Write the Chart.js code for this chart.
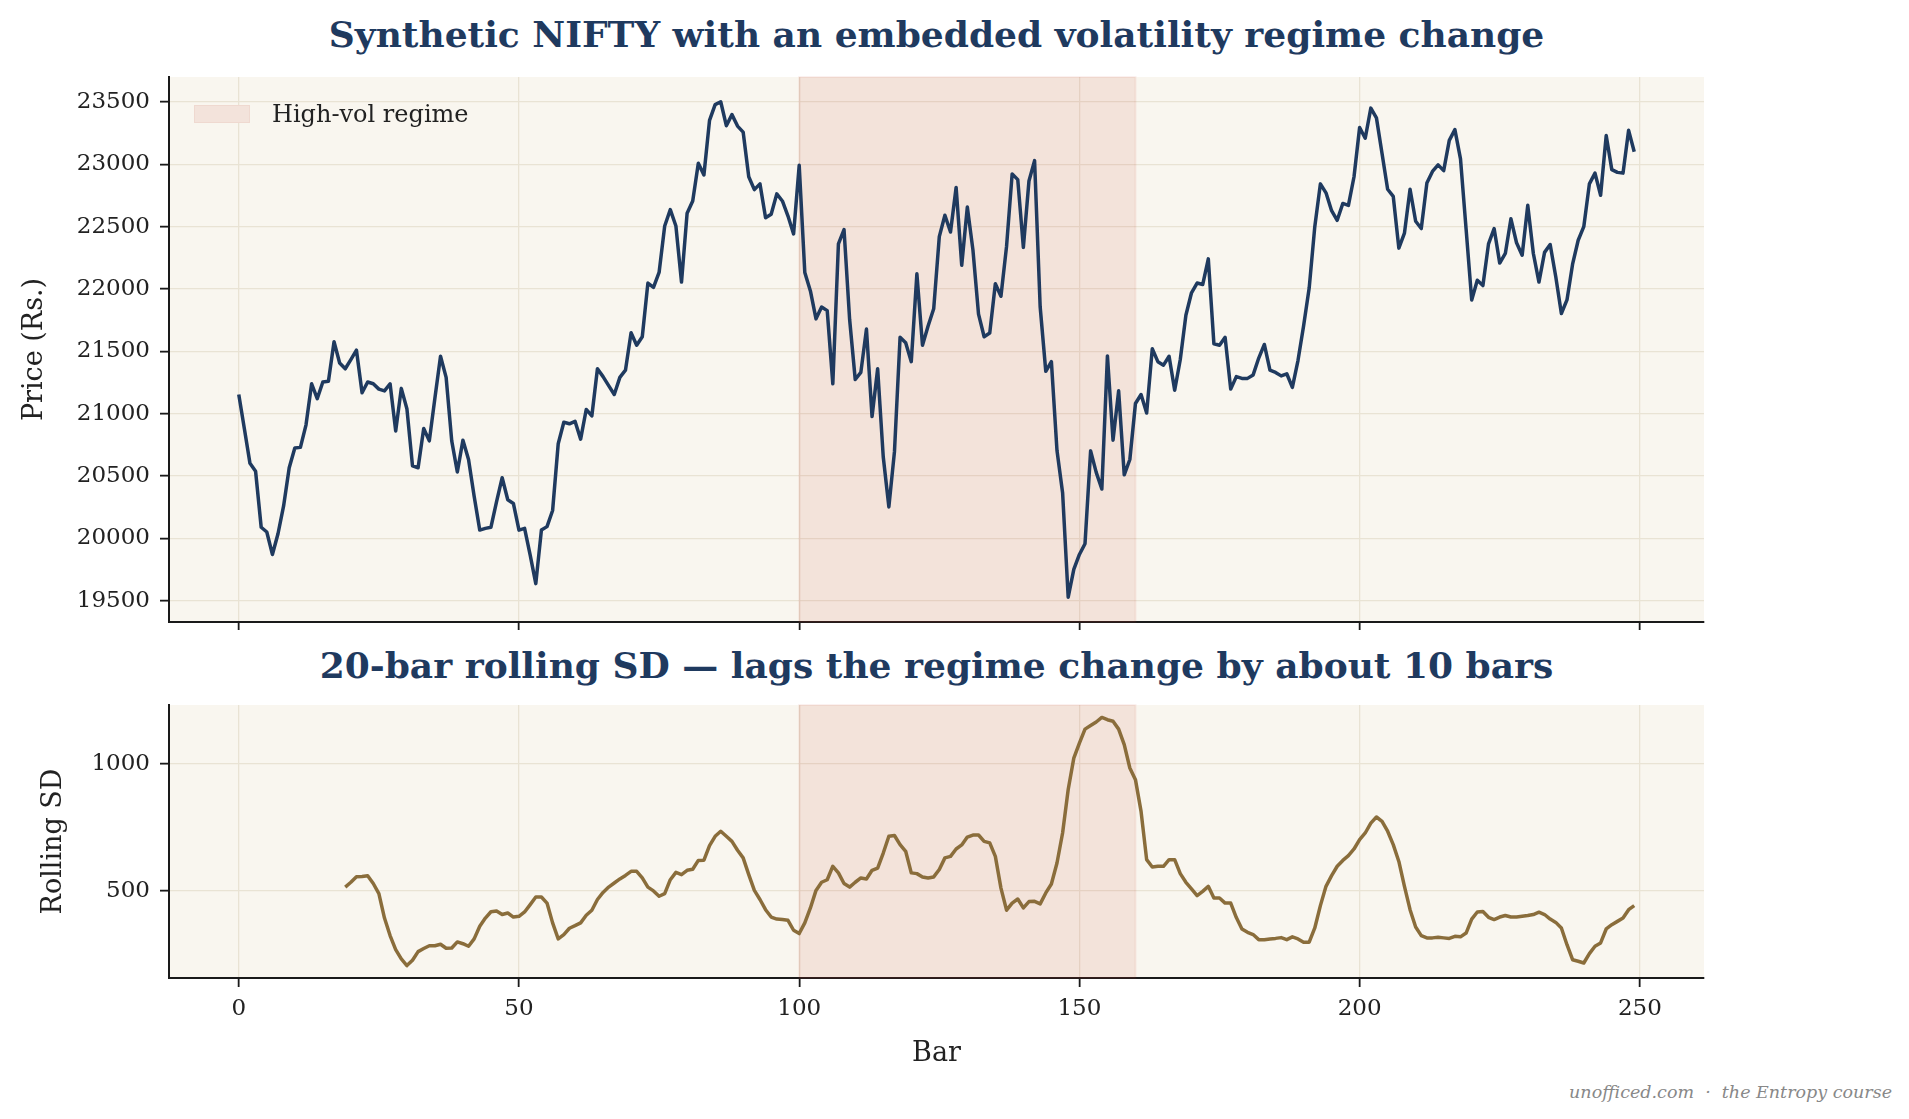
<!DOCTYPE html>
<html>
<head>
<meta charset="utf-8">
<script src="https://cdn.jsdelivr.net/npm/chart.js@4.4.0/dist/chart.umd.min.js"></script>
<style>
  body { margin:0; width:1909px; height:1119px; background:#fff; position:relative; overflow:hidden; font-family:"DejaVu Serif", serif; }
  canvas { position:absolute; left:0; }
  #priceChart { top:70px; }
  #sdChart { top:698px; }
  .title { position:absolute; left:169px; width:1535px; text-align:center; color:#1f3a5f; font-weight:bold; font-size:36px; line-height:44px; white-space:nowrap; }
  #title1 { top:12px; }
  #title2 { top:643px; }
  #legendBox { position:absolute; left:194px; top:105px; width:56px; height:18px; background:#f3e3db; border:1px solid #efd9d0; box-sizing:border-box; }
  #legendText { position:absolute; left:272px; top:100px; font-size:24px; line-height:28px; color:#222; }
  #footer { position:absolute; right:17px; top:1082px; font-size:17.5px; line-height:20px; font-style:italic; color:#888; }
</style>
</head>
<body>
<div class="title" id="title1">Synthetic NIFTY with an embedded volatility regime change</div>
<div class="title" id="title2">20-bar rolling SD — lags the regime change by about 10 bars</div>
<canvas id="priceChart" width="1720" height="560"></canvas>
<canvas id="sdChart" width="1720" height="380"></canvas>
<div id="legendBox"></div>
<div id="legendText">High-vol regime</div>
<div id="footer">unofficed.com &nbsp;·&nbsp; the Entropy course</div>
<script>
// closing price per bar, bars 0..249
const price = [
  21154, 20880, 20602, 20539, 20090, 20052, 19872, 20038, 20261, 20567,
  20725, 20730, 20911, 21240, 21120, 21254, 21260, 21577, 21406, 21360,
  21434, 21509, 21168, 21254, 21240, 21197, 21183, 21240, 20862, 21203,
  21040, 20582, 20567, 20882, 20782, 21125, 21460, 21291, 20782, 20533,
  20788, 20633, 20339, 20067, 20081, 20090, 20295, 20487, 20310, 20281,
  20067, 20081, 19867, 19638, 20067, 20095, 20224, 20759, 20931, 20919,
  20939, 20796, 21034, 20982, 21360, 21297, 21225, 21154, 21291, 21349,
  21649, 21549, 21617, 22047, 22012, 22132, 22504, 22636, 22504, 22055,
  22607, 22705, 23008, 22913, 23351, 23477, 23500, 23308, 23397, 23305,
  23257, 22899, 22796, 22842, 22570, 22599, 22762, 22705, 22584, 22441,
  22991, 22132, 21984, 21760, 21855, 21826, 21240, 22361, 22476, 21755,
  21274, 21331, 21678, 20977, 21360, 20653, 20253, 20696, 21612, 21569,
  21417, 22121, 21549, 21703, 21841, 22419, 22590, 22456, 22813, 22190,
  22656, 22313, 21798, 21617, 21646, 22041, 21941, 22341, 22922, 22876,
  22333, 22865, 23028, 21855, 21340, 21417, 20705, 20367, 19529, 19752,
  19872, 19958, 20702, 20530, 20396, 21463, 20788, 21183, 20510, 20633,
  21082, 21154, 21005, 21520, 21417, 21389, 21460, 21188, 21434, 21789,
  21969, 22047, 22035, 22241, 21560, 21549, 21612, 21197, 21297, 21283,
  21283, 21311, 21446, 21555, 21349, 21331, 21303, 21320, 21211, 21426,
  21703, 22007, 22499, 22842, 22770, 22627, 22550, 22685, 22670, 22899,
  23294, 23208, 23449, 23371, 23085, 22799, 22742, 22327, 22447, 22799,
  22542, 22484, 22848, 22942, 22994, 22948, 23191, 23277, 23042, 22479,
  21912, 22070, 22027, 22361, 22484, 22207, 22284, 22562, 22370, 22270,
  22670, 22284, 22055, 22293, 22356, 22098, 21803, 21912, 22198, 22390,
  22499, 22842, 22928, 22751, 23229, 22956, 22934, 22928, 23271, 23099
];

// 20-bar rolling SD, first value sits at bar 19
const sdStart = 19;
const rollingSd = [
                                                            514,
  533, 555, 556, 559, 528, 488, 392, 323, 268, 231,
  205, 226, 260, 272, 283, 283, 289, 273, 274, 298,
  291, 281, 310, 360, 392, 417, 420, 406, 412, 396,
  399, 416, 445, 475, 475, 451, 373, 310, 327, 352,
  362, 373, 403, 423, 465, 493, 514, 530, 546, 560,
  576, 576, 550, 514, 499, 478, 488, 543, 572, 563,
  580, 584, 619, 620, 677, 714, 734, 714, 694, 659,
  629, 563, 501, 465, 425, 396, 388, 386, 383, 344,
  331, 373, 432, 501, 533, 543, 596, 570, 528, 514,
  533, 550, 546, 580, 589, 648, 714, 717, 681, 655,
  570, 567, 554, 550, 554, 583, 629, 635, 664, 680,
  711, 719, 719, 694, 688, 635, 510, 423, 451, 467,
  432, 457, 458, 448, 491, 526, 609, 727, 898, 1022,
  1081, 1136, 1150, 1164, 1182, 1173, 1167, 1136, 1075, 983,
  937, 812, 622, 593, 596, 596, 622, 622, 567, 533,
  507, 480, 497, 517, 471, 471, 451, 451, 394, 349,
  336, 327, 307, 307, 310, 312, 315, 307, 318, 310,
  297, 297, 353, 441, 517, 559, 596, 619, 638, 664,
  701, 727, 766, 790, 773, 734, 681, 615, 517, 425,
  357, 323, 314, 314, 316, 314, 312, 320, 318, 333,
  388, 416, 418, 395, 386, 396, 402, 396, 396, 399,
  402, 406, 415, 406, 388, 375, 353, 287, 228, 222,
  215, 252, 281, 294, 349, 366, 379, 392, 425, 441
];

const regime = [100, 160];
const barTicks = [0, 50, 100, 150, 200, 250];
const priceTicks = [19500, 20000, 20500, 21000, 21500, 22000, 22500, 23000, 23500];
const sdTicks = [500, 1000];

const navy = '#1f3a5f';
const brown = '#8a6d3b';
const ink = '#222';
const gridColor = '#e9e3d4';

Chart.defaults.font.family = '"DejaVu Serif", serif';
Chart.defaults.color = ink;

const plotBackground = {
  id: 'plotBackground',
  beforeDraw(chart) {
    const { ctx, chartArea: a } = chart;
    ctx.save();
    ctx.fillStyle = '#f9f6ef';
    ctx.fillRect(a.left, a.top, a.width, a.height);
    ctx.restore();
  }
};

const regimeBand = {
  id: 'regimeBand',
  beforeDatasetsDraw(chart) {
    const { ctx, chartArea: a, scales: { x } } = chart;
    const x0 = x.getPixelForValue(regime[0]);
    const x1 = x.getPixelForValue(regime[1]);
    ctx.save();
    ctx.fillStyle = 'rgba(192,57,43,0.1)';
    ctx.fillRect(x0, a.top, x1 - x0, a.height);
    ctx.strokeStyle = 'rgba(192,57,43,0.07)';
    ctx.lineWidth = 2;
    ctx.strokeRect(x0, a.top, x1 - x0, a.height);
    ctx.restore();
  }
};

function xAxis(showLabels, height) {
  return {
    type: 'linear',
    min: -12.45,
    max: 261.45,
    afterBuildTicks: ax => { ax.ticks = barTicks.map(v => ({ value: v })); },
    afterFit: ax => {
      ax.height = height;
      ax.paddingLeft = 0;
      ax.paddingRight = 0;
    },
    ticks: { padding: 8, font: { size: 23 }, maxRotation: 0, callback: v => showLabels ? String(v) : '' },
    grid: { color: gridColor, lineWidth: 1.3, tickLength: 9, tickColor: '#1a1a1a', tickWidth: 1.8 },
    border: { display: true, color: '#1a1a1a', width: 2 },
    title: { display: showLabels, text: 'Bar', font: { size: 27 }, padding: { top: 0, bottom: 8 } }
  };
}

function yAxis(min, max, ticks, title, titlePad) {
  return {
    min: min,
    max: max,
    afterBuildTicks: ax => { ax.ticks = ticks.map(v => ({ value: v })); },
    afterFit: ax => {
      ax.width = 169;
      ax.paddingTop = 0;
      ax.paddingBottom = 0;
    },
    ticks: { padding: 10, font: { size: 23 }, callback: v => String(v) },
    grid: { color: gridColor, lineWidth: 1.3, tickLength: 9, tickColor: '#1a1a1a', tickWidth: 1.8 },
    border: { display: true, color: '#1a1a1a', width: 2 },
    title: { display: true, text: title, font: { size: 27 }, padding: { top: titlePad, bottom: 0 } }
  };
}

function baseOptions(xCfg, yCfg) {
  return {
    responsive: false,
    animation: false,
    devicePixelRatio: 1,
    layout: { padding: { top: 7, right: 16, left: 0, bottom: 0 } },
    plugins: { legend: { display: false }, tooltip: { enabled: false } },
    scales: { x: xCfg, y: yCfg }
  };
}

new Chart(document.querySelector('#priceChart'), {
  type: 'line',
  data: {
    datasets: [{
      label: 'Price',
      data: price.map((v, i) => ({ x: i, y: v })),
      borderColor: navy,
      borderWidth: 3.5,
      pointRadius: 0,
      borderJoinStyle: 'round',
      tension: 0
    }]
  },
  options: baseOptions(xAxis(false, 8), yAxis(19330.5, 23698.5, priceTicks, 'Price (Rs.)', 19)),
  plugins: [plotBackground, regimeBand]
});

new Chart(document.querySelector('#sdChart'), {
  type: 'line',
  data: {
    datasets: [{
      label: 'Rolling SD',
      data: rollingSd.map((v, i) => ({ x: sdStart + i, y: v })),
      borderColor: brown,
      borderWidth: 3.5,
      pointRadius: 0,
      borderJoinStyle: 'round',
      tension: 0
    }]
  },
  options: baseOptions(xAxis(true, 100), yAxis(156, 1231, sdTicks, 'Rolling SD', 38)),
  plugins: [plotBackground, regimeBand]
});
</script>
</body>
</html>
